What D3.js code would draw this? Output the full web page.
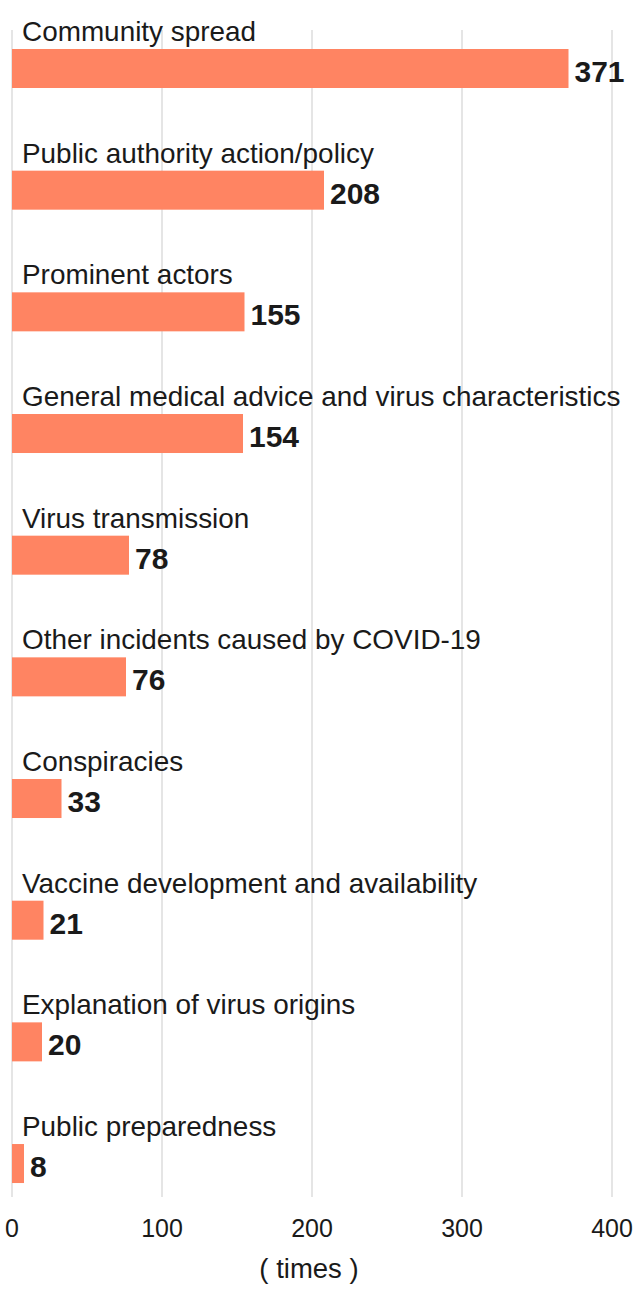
<!DOCTYPE html>
<html>
<head>
<meta charset="utf-8">
<script src="https://cdn.jsdelivr.net/npm/d3@7"></script>
<style>
  body { margin: 0; background: #fff; }
  svg text { font-family: "Liberation Sans", Arial, "Noto Sans CJK SC", sans-serif; fill: #1a1a1a; }
</style>
</head>
<body>
<div class="graph"></div>
<script>
let categories = [
  "Community spread",
  "Public authority action/policy",
  "Prominent actors",
  "General medical advice and virus characteristics",
  "Virus transmission",
  "Other incidents caused by COVID-19",
  "Conspiracies",
  "Vaccine development and availability",
  "Explanation of virus origins",
  "Public preparedness"
];
let counts = [371, 208, 155, 154, 78, 76, 33, 21, 20, 8];
let ticks = [0, 100, 200, 300, 400];
let axisTitle = "( times )";

let w = 640;
let h = 1308;

let svg = d3
  .select(".graph")
  .append("svg")
  .attr("width", w)
  .attr("height", h);

let xScale = d3.scaleLinear().domain([0, 400]).range([12, 612]);
let yScale = d3
  .scaleBand()
  .domain(categories)
  .range([28, 28 + 121.67 * categories.length]);

// grid lines
svg
  .append("g")
  .selectAll("line")
  .data(ticks)
  .enter()
  .append("line")
  .attr("x1", (d) => xScale(d))
  .attr("x2", (d) => xScale(d))
  .attr("y1", 30)
  .attr("y2", 1197)
  .attr("stroke", "#e5e5e5")
  .attr("stroke-width", 2);

// tick labels
svg
  .append("g")
  .selectAll("text")
  .data(ticks)
  .enter()
  .append("text")
  .attr("x", (d) => xScale(d))
  .attr("y", 1237)
  .attr("text-anchor", "middle")
  .style("font-size", "25px")
  .text((d) => d);

svg
  .append("text")
  .attr("x", xScale(200) - 3)
  .attr("y", 1278)
  .attr("text-anchor", "middle")
  .style("font-size", "27.5px")
  .text(axisTitle);

let rows = svg
  .append("g")
  .selectAll("g")
  .data(categories)
  .enter()
  .append("g");

rows
  .append("rect")
  .attr("x", xScale(0))
  .attr("y", (d) => yScale(d) + 21)
  .attr("width", (d, i) => xScale(counts[i]) - xScale(0))
  .attr("height", 39)
  .attr("fill", "#ff8462");

rows
  .append("text")
  .attr("x", 22)
  .attr("y", (d) => yScale(d) + 13)
  .style("font-size", "27.9px")
  .text((d) => d);

rows
  .append("text")
  .attr("x", (d, i) => xScale(counts[i]) + 6)
  .attr("y", (d) => yScale(d) + 54)
  .style("font-size", "30px")
  .style("font-weight", "bold")
  .text((d, i) => counts[i]);
</script>
</body>
</html>
